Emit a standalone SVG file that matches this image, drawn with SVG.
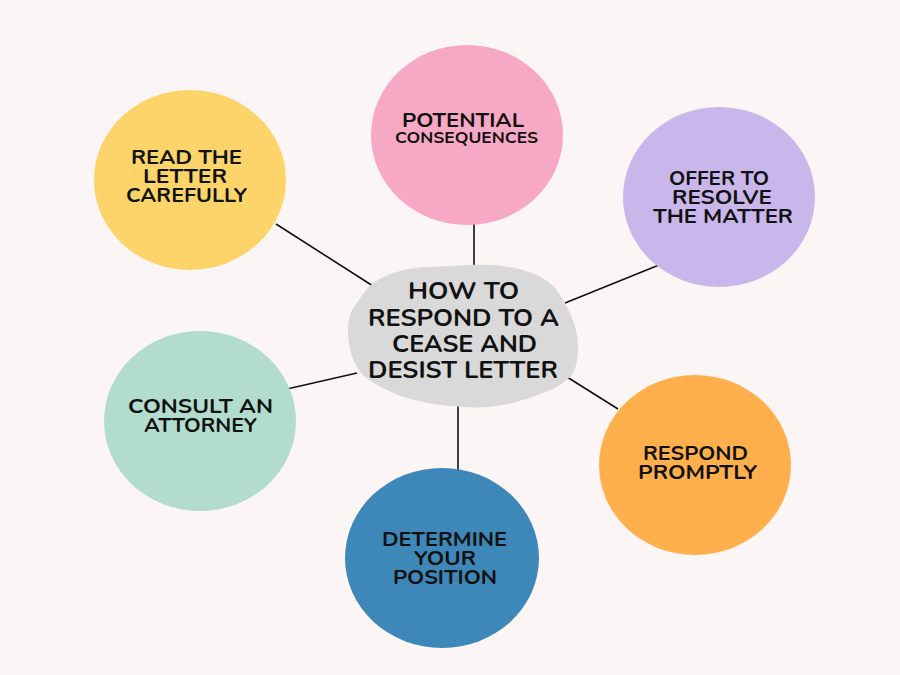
<svg xmlns="http://www.w3.org/2000/svg" width="900" height="675" viewBox="0 0 900 675">
<style>
.t{font-family:"Nunito","Open Sans","Liberation Sans",sans-serif;font-weight:700;fill:#111;text-anchor:middle}
.s{font-size:20px}
.c{font-size:24px}
.ln{stroke:#111;stroke-width:1.6;fill:none}
</style>
<rect width="900" height="675" fill="#FBF5F5"/>
<g id="connectors">
<line class="ln" x1="276" y1="224" x2="373" y2="286"/>
<line class="ln" x1="474" y1="224" x2="474" y2="266"/>
<line class="ln" x1="659" y1="265" x2="565" y2="303"/>
<line class="ln" x1="287" y1="389" x2="357" y2="373"/>
<line class="ln" x1="567" y1="377" x2="618" y2="409"/>
<line class="ln" x1="458" y1="405" x2="458" y2="470"/>
</g>
<g id="read">
<ellipse cx="190" cy="180" rx="96" ry="90" fill="#FCD46A"/>
<text class="t s" x="186.5" y="163.5" textLength="111" lengthAdjust="spacingAndGlyphs">READ THE</text>
<text class="t s" x="185" y="183" textLength="84" lengthAdjust="spacingAndGlyphs">LETTER</text>
<text class="t s" x="186.5" y="202" textLength="121" lengthAdjust="spacingAndGlyphs">CAREFULLY</text>
</g>
<g id="potential">
<ellipse cx="467" cy="135" rx="96" ry="90" fill="#F7A8C5"/>
<text class="t s" x="463" y="127" textLength="122" lengthAdjust="spacingAndGlyphs">POTENTIAL</text>
<text class="t" font-size="15.5" x="466.5" y="143" textLength="143" lengthAdjust="spacingAndGlyphs">CONSEQUENCES</text>
</g>
<g id="offer">
<ellipse cx="719" cy="197" rx="96" ry="90" fill="#C9B7EC"/>
<text class="t s" x="719" y="185" textLength="100" lengthAdjust="spacingAndGlyphs">OFFER TO</text>
<text class="t s" x="722" y="204" textLength="100" lengthAdjust="spacingAndGlyphs">RESOLVE</text>
<text class="t s" x="723" y="223" textLength="140" lengthAdjust="spacingAndGlyphs">THE MATTER</text>
</g>
<g id="consult">
<ellipse cx="200" cy="421" rx="96" ry="90" fill="#B2DDCD"/>
<text class="t s" x="200.5" y="413" textLength="145" lengthAdjust="spacingAndGlyphs">CONSULT AN</text>
<text class="t s" x="200.5" y="432" textLength="113" lengthAdjust="spacingAndGlyphs">ATTORNEY</text>
</g>
<g id="respond">
<ellipse cx="695" cy="465" rx="96" ry="90" fill="#FFB04D"/>
<text class="t s" x="695.5" y="460" textLength="105" lengthAdjust="spacingAndGlyphs">RESPOND</text>
<text class="t s" x="697.5" y="478.5" textLength="119" lengthAdjust="spacingAndGlyphs">PROMPTLY</text>
</g>
<g id="determine">
<ellipse cx="442" cy="558" rx="97" ry="90" fill="#3D87B9"/>
<text class="t s" x="444.5" y="546" textLength="125" lengthAdjust="spacingAndGlyphs">DETERMINE</text>
<text class="t s" x="445" y="565" textLength="62" lengthAdjust="spacingAndGlyphs">YOUR</text>
<text class="t s" x="445" y="583.5" textLength="104" lengthAdjust="spacingAndGlyphs">POSITION</text>
</g>
<g id="center">
<path d="M373 283 C390 272 410 267 430 267 C455 266 475 264 490 265 C510 266 525 270 537 275 C550 281 558 290 563 300 C572 315 578 330 578 347 C578 362 575 372 570 377 C560 386 552 390 543 393 C525 400 508 405 490 407 C475 408 458 407 440 405 C420 402 400 397 387 390 C372 383 362 376 357 367 C350 355 348 343 348 330 C348 318 351 310 357 303 C362 295 367 288 373 283 Z" fill="#D9D9D9"/>
<text class="t c" x="463.5" y="299" textLength="111" lengthAdjust="spacingAndGlyphs">HOW TO</text>
<text class="t c" x="463.5" y="326" textLength="191" lengthAdjust="spacingAndGlyphs">RESPOND TO A</text>
<text class="t c" x="464.5" y="352" textLength="145" lengthAdjust="spacingAndGlyphs">CEASE AND</text>
<text class="t c" x="463" y="378" textLength="190" lengthAdjust="spacingAndGlyphs">DESIST LETTER</text>
</g>
</svg>
